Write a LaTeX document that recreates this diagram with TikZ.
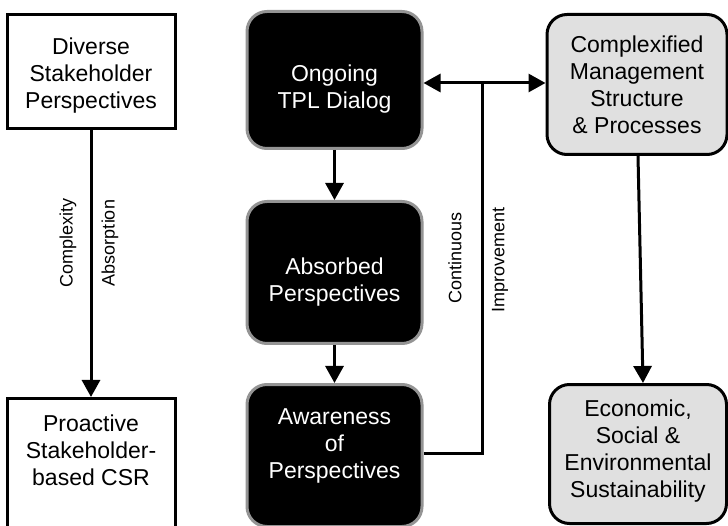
\documentclass[tikz,border=0pt]{standalone}
\usepackage{fontspec}
\setmainfont{Liberation Sans}
\usetikzlibrary{arrows.meta}
% centred multi-line box text whose reference point is the first baseline
\newcommand{\boxlines}[2]{\parbox[t]{#1}{\centering\fontsize{23pt}{27pt}\selectfont #2}}

\begin{document}
\begin{tikzpicture}[x=1pt,y=-1pt,
  frame/.style={anchor=north, inner sep=0pt, line width=3pt},
  plainbox/.style={frame, draw=black, fill=white},
  darkbox/.style={frame, draw=black!42, fill=black, text=white, rounded corners=20pt},
  greybox/.style={frame, draw=black, fill=black!12, rounded corners=20pt},
  link/.style={line width=3pt, -{Triangle[length=17pt,width=18pt]}},
  wire/.style={line width=3pt},
  tag/.style={rotate=90, font=\fontsize{18pt}{20pt}\selectfont, inner sep=0pt}]

\useasboundingbox (0,0) rectangle (728,526);
\clip (0,0) rectangle (728,526);

% left column
\node[plainbox, minimum width=168pt, text height=40pt, text depth=74pt] (diverse) at (91,13)
  {\boxlines{160pt}{Diverse\\Stakeholder\\Perspectives}};
\node[plainbox, minimum width=168pt, text height=33pt, text depth=110pt] (proactive) at (91,397)
  {\boxlines{160pt}{Proactive\\Stakeholder-\\based CSR}};

% middle column
\node[darkbox, minimum width=175pt, text height=70pt, text depth=67pt] (ongoing) at (334.5,10)
  {\boxlines{165pt}{Ongoing\\TPL Dialog}};
\node[darkbox, minimum width=175pt, text height=73pt, text depth=69pt] (absorbed) at (334.5,200)
  {\boxlines{165pt}{Absorbed\\Perspectives}};
\node[darkbox, minimum width=175pt, text height=40pt, text depth=102pt] (awareness) at (334.5,383)
  {\boxlines{165pt}{Awareness\\of\\Perspectives}};

% right column
\node[greybox, minimum width=180pt, text height=38pt, text depth=102pt] (complex) at (637,13)
  {\boxlines{172pt}{Complexified\\Management\\Structure\\\& Processes}};
\node[greybox, minimum width=177pt, text height=32pt, text depth=107pt] (econ) at (638,383)
  {\boxlines{172pt}{Economic,\\Social \&\\Environmental\\Sustainability}};

% rotated labels
\node[tag] (complexity) at (68,243) {Complexity};
\node[tag] (absorption) at (110,243) {Absorption};
\node[tag] (continuous) at (455,258) {Continuous};
\node[tag] (improvement) at (500,260) {Improvement};

% connectors
\draw[link] (diverse.south) -- (proactive.north);
\draw[link] (ongoing.south) -- (absorbed.north);
\draw[link] (absorbed.south) -- (awareness.north);

\coordinate (J) at (482,83);
\coordinate (K) at (482,453);
\draw[wire] (awareness.east |- K) -- (K) -- (J);
\draw[link] (J) -- (ongoing.east |- J);
\draw[link] (J) -- (complex.west |- J);
\draw[link] ([xshift=1pt]complex.south) -- ([xshift=5pt]econ.north);
\end{tikzpicture}
\end{document}
